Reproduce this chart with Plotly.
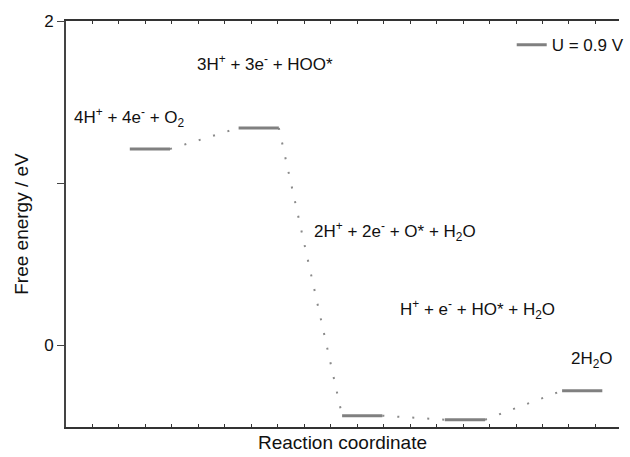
import plotly.graph_objects as go

# Oxygen reduction pathway at U = 0.9 V
species = ["4H+ + 4e- + O2", "3H+ + 3e- + HOO*", "2H+ + 2e- + O* + H2O",
           "H+ + e- + HO* + H2O", "2H2O"]
energies = [1.21, 1.34, -0.436, -0.461, -0.282]   # eV
step_pos = [3.17, 7.28, 11.19, 15.07, 19.5]        # reaction coordinate
half_width = 0.76

level_color = "#808080"
font_family = "Liberation Sans, Arial, sans-serif"

# horizontal energy levels (one trace, separated by None)
lx, ly = [], []
for xc, e in zip(step_pos, energies):
    lx += [xc - half_width, xc + half_width, None]
    ly += [e, e, None]

# dotted connectors between neighbouring levels
cx, cy = [], []
for i in range(len(energies) - 1):
    cx += [step_pos[i] + half_width, step_pos[i + 1] - half_width, None]
    cy += [energies[i], energies[i + 1], None]

fig = go.Figure()
fig.add_trace(go.Scatter(x=cx, y=cy, mode="lines", showlegend=False,
                         line=dict(color="#8a8a8a", width=2, dash="2px,13px"),
                         hoverinfo="skip"))
fig.add_trace(go.Scatter(x=lx, y=ly, mode="lines", name="U = 0.9 V",
                         line=dict(color=level_color, width=3)))

labels_html = [
    "4H<sup>+</sup> + 4e<sup>-</sup> + O<sub>2</sub>",
    "3H<sup>+</sup> + 3e<sup>-</sup> + HOO*",
    "2H<sup>+</sup> + 2e<sup>-</sup> + O* + H<sub>2</sub>O",
    "H<sup>+</sup> + e<sup>-</sup> + HO* + H<sub>2</sub>O",
    "2H<sub>2</sub>O",
]
label_xy = [(0.22, 1.407), (4.87, 1.741), (9.28, 0.70), (12.56, 0.222), (19.0, -0.093)]
for txt, (ax_, ay_) in zip(labels_html, label_xy):
    fig.add_annotation(x=ax_, y=ay_, text=txt, showarrow=False,
                       xanchor="left", yanchor="middle",
                       font=dict(size=17, color="#111", family=font_family))

fig.update_layout(
    width=630, height=457,
    margin=dict(l=66, r=0, t=21, b=30),
    paper_bgcolor="white", plot_bgcolor="white",
    font=dict(family=font_family, size=17, color="#111"),
    legend=dict(x=0.806, y=0.985, xanchor="left", yanchor="top",
                bgcolor="rgba(0,0,0,0)", font=dict(size=17)),
    xaxis=dict(range=[0, 20.89], showgrid=False, zeroline=False,
               showline=True, linecolor="#333", linewidth=2, mirror="ticks",
               tickvals=list(range(0, 21)), ticks="inside", ticklen=3,
               tickcolor="#333", showticklabels=False,
               title=dict(text="Reaction coordinate", font=dict(size=19), standoff=8),
               automargin=False),
    yaxis=dict(range=[-0.506, 2], showgrid=False, zeroline=False,
               showline=True, linecolor="#444", linewidth=2,
               tickvals=[0, 1, 2], ticktext=["0", "", "2"],
               ticks="outside", ticklen=7, tickcolor="#444",
               tickfont=dict(size=17),
               title=dict(text="Free energy / eV", font=dict(size=19), standoff=10),
               automargin=False),
)

fig.write_html("out.html")
